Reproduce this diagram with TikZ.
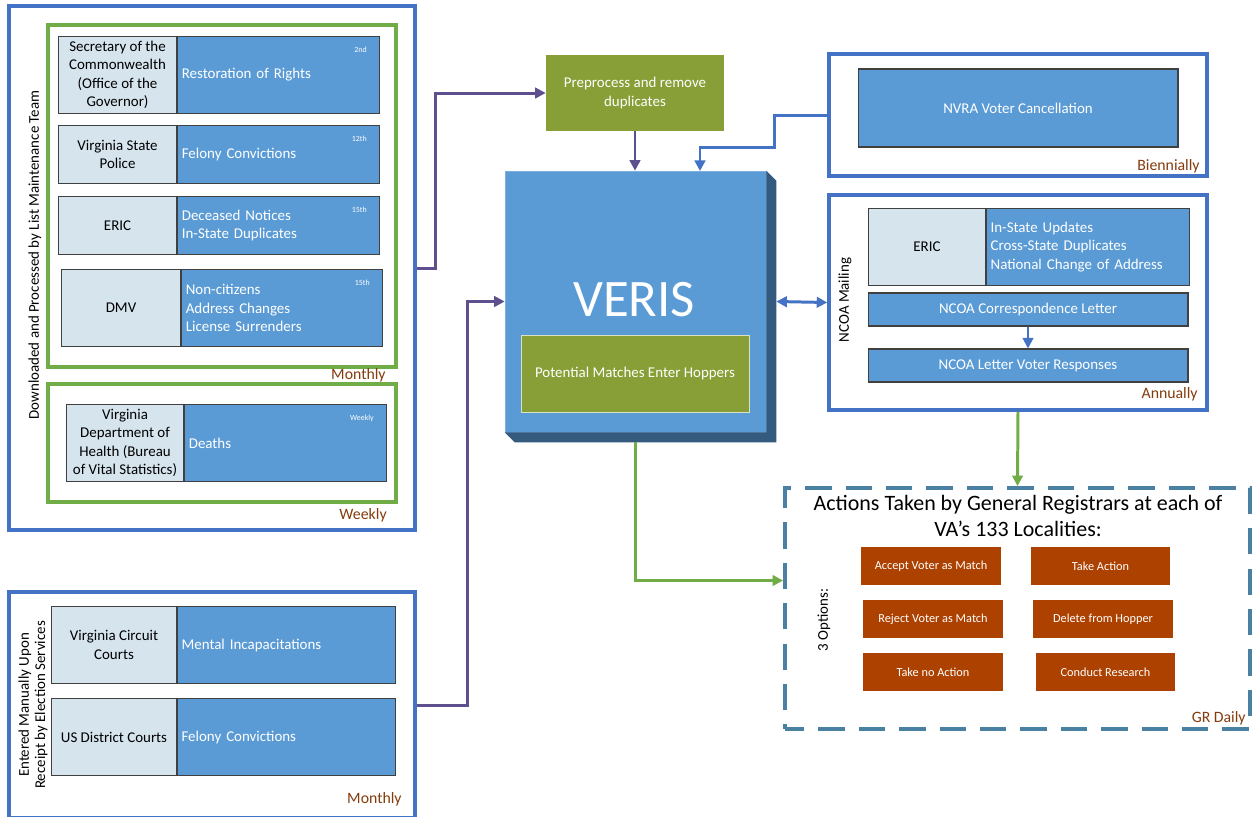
\documentclass[tikz,border=0pt]{standalone}
\usepackage{fontspec}
\setmainfont{Carlito}
\usetikzlibrary{arrows.meta,positioning,fit}
\definecolor{boxblue}{HTML}{5B9BD5}
\definecolor{srcblue}{HTML}{D6E4EE}
\definecolor{frameblue}{HTML}{4472C4}
\definecolor{framegreen}{HTML}{70AD47}
\definecolor{olive}{HTML}{879F36}
\definecolor{rust}{HTML}{AC4100}
\definecolor{freqbrown}{HTML}{843C0C}
\definecolor{purp}{HTML}{5F4F8E}
\definecolor{dashblue}{HTML}{4A81A2}
\definecolor{verisdark}{HTML}{345A7E}
\begin{document}
\begin{tikzpicture}[x=0.02cm,y=-0.02cm,
    every node/.style={font=\fontsize{8.5}{10.5}\selectfont},
    frame/.style={draw=frameblue,line width=2pt,inner sep=0pt},
    gframe/.style={draw=framegreen,line width=1.8pt,inner sep=0pt},
    src/.style={draw=black!75,line width=.6pt,fill=srcblue,align=center,inner sep=1pt,anchor=north west},
    info/.style={draw=black!75,line width=.6pt,fill=boxblue,text=white,align=left,inner sep=2.3pt,anchor=north west},
    bar/.style={draw=black!75,line width=.6pt,fill=boxblue,text=white,align=center,inner sep=0pt,
      minimum width=6.4cm,minimum height=.66cm},
    day/.style={text=white,font=\fontsize{4.5}{5}\selectfont,inner sep=0pt,anchor=north east},
    freq/.style={text=freqbrown,font=\fontsize{9}{10}\selectfont,inner sep=0pt,anchor=east},
    green/.style={fill=olive,text=white,align=center,inner sep=0pt},
    opt/.style={fill=rust,text=white,font=\fontsize{7}{8}\selectfont,inner sep=0pt,
      minimum width=2.8cm,minimum height=.76cm},
    parrow/.style={draw=purp,line width=1.7pt,-{Triangle[length=6pt,width=6pt]}},
    barrow/.style={draw=frameblue,line width=1.7pt,-{Triangle[length=6pt,width=6pt]}},
    garrow/.style={draw=framegreen,line width=1.7pt,-{Triangle[length=6pt,width=6pt]}}]
  \useasboundingbox[fill=white](0,0)rectangle(1252,816);

  % left side: downloaded sources
  \node[frame,fit={(9,6)(415,530)}](L1){};
  \node[gframe,fit={(48,25)(396,367)}](M1){};
  \node[gframe,fit={(48,384)(396,502)}](W1){};
  \node[rotate=90](L1t) at (35,255){Downloaded and Processed by List Maintenance Team};
  \foreach \i/\x/\y/\h/\ws/\wi/\s/\t/\d in{
      1/58/36/77/118/202/{Secretary of the\\Commonwealth\\(Office of the\\Governor)}/{Restoration of Rights}/2nd,
      2/58/125/58/118/202/{Virginia State\\Police}/{Felony Convictions}/12th,
      3/58/196/58/118/202/{ERIC}/{Deceased Notices\\In-State Duplicates}/15th,
      4/61/269/77/119/201/{DMV}/{Non-citizens\\Address Changes\\License Surrenders}/15th,
      5/66/404/77/117/202/{Virginia\\Department of\\Health (Bureau\\of Vital Statistics)}/{Deaths}/Weekly}{
    \pgfmathsetmacro\sw{\ws*0.02}
    \pgfmathsetmacro\iw{\wi*0.02}
    \pgfmathsetmacro\tw{\wi*0.02-0.17}
    \pgfmathsetmacro\bh{\h*0.02}
    \node[src,minimum width=\sw cm,minimum height=\bh cm](S\i) at (\x,\y){\s};
    \node[info,minimum width=\iw cm,minimum height=\bh cm,text width=\tw cm](I\i) at (S\i.north east){\t};
    \node[day](D\i) at ([shift={(-13,11)}]I\i.north east){\d};
  }
  \node[freq](M1f) at (386,375){Monthly};
  \node[freq](W1f) at (387,515){Weekly};

  % left side: entered manually
  \node[frame,fit={(9,592)(415,818)}](L2){};
  \node[rotate=90,align=center,font=\fontsize{8.5}{9.3}\selectfont](L2t) at (33,705){Entered Manually Upon\\Receipt by Election Services};
  \foreach \i/\y/\s/\t in{6/606/{Virginia Circuit\\Courts}/{Mental Incapacitations},
                          7/698/{US District Courts}/{Felony Convictions}}{
    \node[src,minimum width=2.5cm,minimum height=1.54cm](S\i) at (51,\y){\s};
    \node[info,minimum width=4.36cm,minimum height=1.54cm,text width=4.2cm](I\i) at (S\i.north east){\t};
  }
  \node[freq](L2f) at (402,799){Monthly};

  % centre
  \node[green,minimum width=3.56cm,minimum height=1.52cm](P) at (635,93){Preprocess and remove\\duplicates};
  \node[fill=boxblue,draw=boxblue!80!white,minimum width=5.22cm,minimum height=5.22cm,inner sep=0pt](V) at (635.5,301.5){};
  \fill[verisdark](V.north east)--++(10,10)|-([shift={(10,10)}]V.south west)--(V.south west)--(V.south east)--cycle;
  \node[text=white,font=\fontsize{30}{30}\selectfont](Vt) at (634,300){VERIS};
  \node[green,draw=white!70!olive,minimum width=4.56cm,minimum height=1.54cm](H) at (635,373.5){Potential Matches Enter Hoppers};

  % right side
  \node[frame,fit={(829,54)(1207,176)}](B){};
  \node[bar,minimum width=6.4cm,minimum height=1.56cm](N) at (1018,108){NVRA Voter Cancellation};
  \node[freq](Bf) at (1200,166){Biennially};
  \node[frame,fit={(829,195)(1207,410)}](A){};
  \node[rotate=90](At) at (845,300){NCOA Mailing};
  \node[src,minimum width=2.34cm,minimum height=1.54cm](S8) at (868,208){ERIC};
  \node[info,minimum width=4.06cm,minimum height=1.54cm,text width=3.9cm](I8) at (S8.north east){In-State Updates\\Cross-State Duplicates\\National Change of Address};
  \node[bar](C1) at (1028,309.5){NCOA Correspondence Letter};
  \node[bar](C2) at (1028,365.5){NCOA Letter Voter Responses};
  \node[freq](Af) at (1198,394){Annually};

  % actions
  \node[draw=dashblue,line width=2.2pt,dash pattern=on 15pt off 8pt,dash phase=4pt,fit={(785,488)(1250,729)},inner sep=0pt](G){};
  \node[align=center,font=\fontsize{12.5}{15}\selectfont](Gt) at (1018,516){Actions Taken by General Registrars at each of\\VA’s 133 Localities:};
  \node[rotate=90](Go) at (824,620){3 Options:};
  \foreach \i/\x/\y/\t in{1/931/566/{Accept Voter as Match}, 2/1100.5/566/{Take Action},
                          3/933/619/{Reject Voter as Match}, 4/1103/619/{Delete from Hopper},
                          5/933/672/{Take no Action}, 6/1105.5/672/{Conduct Research}}{
    \node[opt](O\i) at (\x,\y){\t};
  }
  \node[freq](Gf) at (1246,718){GR Daily};

  % connectors
  \draw[parrow](L1.east)--++(19,0)|-(P.west);
  \draw[parrow](P.south)--(V.north-|P.south);
  \draw[parrow](L2.east)--++(51,0)|-(V.west);
  \coordinate(Vin) at (700,171);
  \draw[barrow](B.west)--++(-53,0)--++(0,32)-|(Vin);
  \draw[draw=frameblue,line width=1.7pt,{Triangle[length=6pt,width=6pt]}-{Triangle[length=6pt,width=6pt]}]([xshift=.2cm]V.east)--(A.west);
  \draw[barrow,line width=1.2pt](C1.south)--(C2.north);
  \draw[garrow](A.south)--(G.north);
  \draw[garrow]([yshift=-.2cm]V.south)|-([yshift=.56cm]G.west);
\end{tikzpicture}
\end{document}
